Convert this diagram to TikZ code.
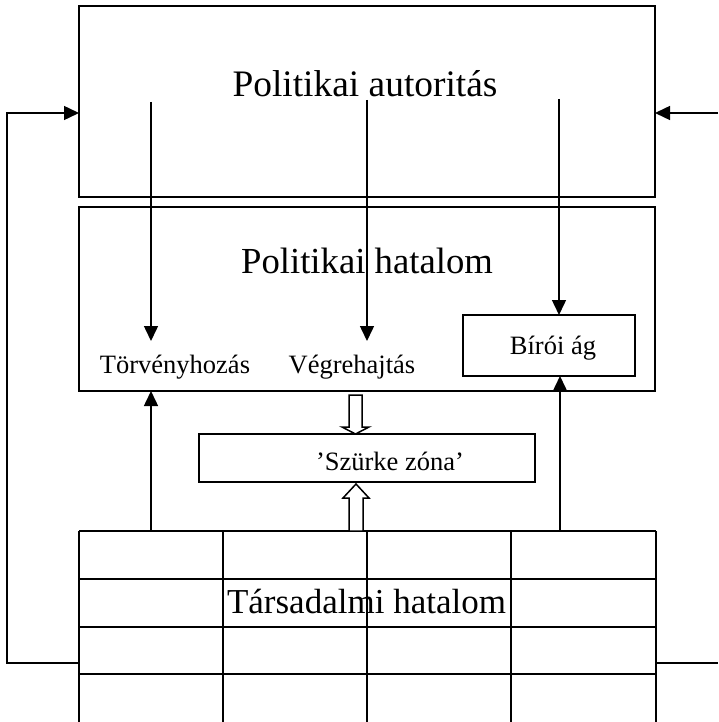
\documentclass[tikz,border=0pt]{standalone}
\usepackage{fontspec}
\setmainfont{Liberation Serif}
\usetikzlibrary{arrows.meta}
\begin{document}
\begin{tikzpicture}[x=1pt,y=-1pt,line width=1.5pt,
  box/.style={draw,inner sep=0pt,outer sep=0pt,anchor=north west},
  bigtext/.style={font=\fontsize{#1}{40}\selectfont,anchor=base,inner sep=0pt},
  smalltext/.style={font=\fontsize{26.5}{30}\selectfont,anchor=base,inner sep=0pt},
  arr/.style={-{Triangle[length=15pt,width=14pt]}},
  hollow/.style={draw,line width=1.5pt,fill=white}]
\useasboundingbox (0,0) rectangle (718,722);

% boxes
\node[box,minimum width=576pt,minimum height=191pt] (auth) at (79,6) {};
\node[box,minimum width=576pt,minimum height=184pt] (pol) at (79,207) {};
\node[box,minimum width=172pt,minimum height=61pt] (birobox) at (463,315) {};
\node[box,minimum width=336pt,minimum height=48pt] (szurke) at (199,434) {};

% texts
\node[bigtext=37.4] (authtext) at (365,97) {Politikai autoritás};
\node[bigtext=36.7] (poltext) at (367,273) {Politikai hatalom};
\node[smalltext] (torv) at (175,373) {Törvényhozás};
\node[smalltext] (vegr) at (352,373) {Végrehajtás};
\node[smalltext] (biro) at (553,354) {Bírói ág};
\node[smalltext] (szurketext) at (390,470) {’Szürke zóna’};

% table
\foreach \yy in {531,579,627,674} \draw (79,\yy) -- (656,\yy);
\foreach \xx in {79,223,367,511,656} \draw (\xx,531) -- (\xx,740);
\node[bigtext=35] (tars) at (366.5,613) {Társadalmi hatalom};

% arrows from authority down
\coordinate (a1) at (151,102);
\coordinate (a2) at (367,100);
\coordinate (a3) at (559,99);
\coordinate (t1) at (151,341);
\coordinate (t2) at (367,341);
\draw[arr] (a1) -- (t1);
\draw[arr] (a2) -- (t2);
\draw[arr] (a3) -- (a3 |- birobox.north);

% arrows from table up
\coordinate (b1) at (151,531);
\coordinate (b2) at (560,531);
\draw[arr] (b1) -- (b1 |- pol.south);
\draw[arr] (b2) -- (b2 |- birobox.south);

% hollow arrows
\coordinate (hd) at (355.5,395);
\draw[hollow] (hd) ++(-6.5,0) -- ++(13,0) -- ++(0,32) -- ++(7,0) -- (355.5,434) -- (342,427) -- (349,427) -- cycle;
\coordinate (hu) at (356,531);
\draw[hollow] (hu) ++(-7,0) -- ++(14,0) -- ++(0,-33) -- ++(6,0) -- (356,484) -- (343,498) -- (349,498) -- cycle;

% feedback loops
\coordinate (lb) at (79,663);
\coordinate (l1) at (7,663);
\coordinate (l2) at (7,113);
\draw[arr] (lb) -- (l1) -- (l2) -- (l2 -| auth.west);
\coordinate (rb) at (656,663);
\coordinate (r1) at (718,663);
\draw (rb) -- (r1);
\coordinate (r2) at (718,113);
\draw[arr] (r2) -- (r2 -| auth.east);
\end{tikzpicture}
\end{document}
